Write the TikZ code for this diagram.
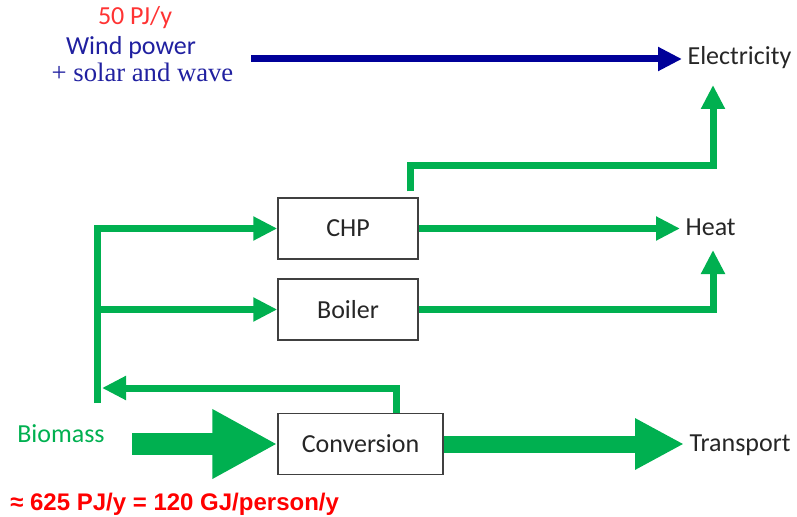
\documentclass[tikz,border=0pt]{standalone}
\usepackage{fontspec}
\setmainfont{Carlito}
\newfontfamily\timesfont{Liberation Serif}
\newfontfamily\arialfont{Liberation Sans}
\usepackage{tikz}
\usetikzlibrary{arrows.meta}
\usepackage{xcolor}
\definecolor{flowgreen}{RGB}{0,176,80}
\definecolor{windblue}{RGB}{0,0,153}
\definecolor{labelblue}{RGB}{32,32,160}
\definecolor{lightred}{RGB}{255,51,51}
\definecolor{boxgray}{RGB}{64,64,64}

\begin{document}
\begin{tikzpicture}[
    x=0.75pt, y=-0.75pt,
    every node/.style={font=\fontsize{19.5}{23}\selectfont},
    unit/.style={draw=boxgray, line width=1.1pt, minimum height=45.75pt,
                 inner sep=0pt, text=black!85},
    lbl/.style={inner sep=4pt, text=black!85},
    flow/.style={draw=flowgreen, line width=5.25pt,
                 -{Triangle[length=18pt,width=17pt]}},
    bigflow/.style={draw=flowgreen, line width=16.5pt,
                 -{Triangle[length=48.75pt,width=48.75pt]}},
    transflow/.style={draw=flowgreen, line width=12.75pt,
                 -{Triangle[length=36.75pt,width=36pt]}},
  ]
  \useasboundingbox (0,0) rectangle (797,517);
  \node[text=lightred, anchor=base] (fifty) at (135,25) {50 PJ/y};
  \node[text=labelblue, anchor=base] (wind) at (131,55) {Wind power};
  \node[text=labelblue, anchor=base, font=\timesfont\fontsize{20}{23}\selectfont]
    (solar) at (142.5,82) {+ solar and wave};
  \node[text=flowgreen, anchor=base west, inner sep=0pt] (bio) at (17,442) {Biomass};
  \node[text=red, anchor=base west, inner sep=0pt,
        font=\arialfont\bfseries\fontsize{18}{22}\selectfont]
    (total) at (10,510) {≈ 625 PJ/y = 120 GJ/person/y};
  \node[unit, minimum width=105pt]    (chp)    at (348,228.5) {CHP};
  \node[unit, minimum width=105pt]    (boiler) at (348,309.5) {Boiler};
  \node[unit, minimum width=123.75pt] (conv)   at (360.5,444) {Conversion};
  \node[lbl, anchor=base west] (elec)  at (682,65)  {Electricity};
  \node[lbl, anchor=base west] (heat)  at (680,235) {Heat};
  \node[lbl, anchor=base west] (trans) at (684,451) {Transport};
  \coordinate (windout) at (251,59);
  \coordinate (elecin)  at (713,85);
  \coordinate (heatin)  at (713,250);
  \coordinate (trunk)   at (97.5,403);
  \coordinate (fbtip)   at (102,388);
  \coordinate (bioout)  at (132,444);
  \draw[flow, draw=windblue] (windout) -- (windout -| elec.west);
  \draw[flow] ([shift={(-8.5,-6)}]chp.north east) -- ++(0,-26) -| (elecin);
  \draw[flow] (chp) -- (chp -| heat.west);
  \draw[flow] (boiler) -| (heatin);
  \draw[flow] (trunk) |- (chp);
  \draw[flow] (trunk |- boiler) -- (boiler);
  \draw[flow] ([xshift=27pt]conv.north) |- (fbtip);
  \draw[bigflow] (bioout) -- (conv);
  \draw[transflow] (conv) -- (conv -| trans.west);
\end{tikzpicture}
\end{document}
